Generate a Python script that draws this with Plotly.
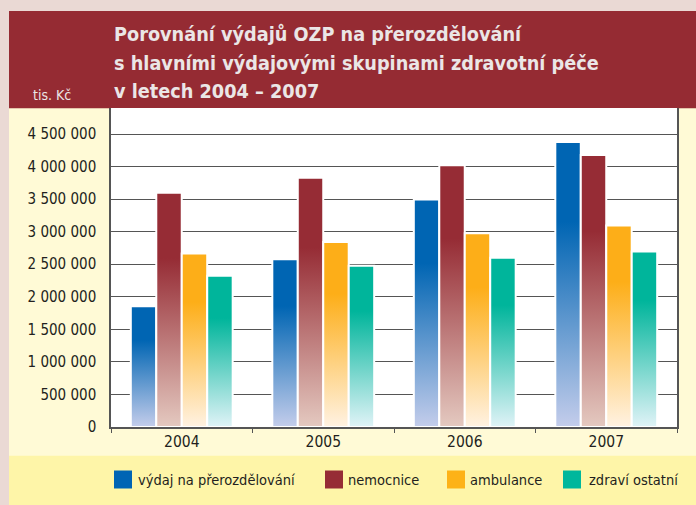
import plotly.graph_objects as go

# ---------------- data ----------------
years = ["2004", "2005", "2006", "2007"]
series_names = ["výdaj na přerozdělování", "nemocnice", "ambulance", "zdraví ostatní"]
vydaj_prerozdelovani = [1855000, 2578000, 3496000, 4377000]
nemocnice = [3598000, 3828000, 4019000, 4177000]
ambulance = [2666000, 2840000, 2978000, 3096000]
zdravi_ostatni = [2322000, 2475000, 2598000, 2697000]
y_tick_values = [0, 500000, 1000000, 1500000, 2000000, 2500000, 3000000, 3500000, 4000000, 4500000]
title_lines = ["Porovnání výdajů OZP na přerozdělování",
               "s hlavními výdajovými skupinami zdravotní péče",
               "v letech 2004 – 2007"]
unit_label = "tis. Kč"

# ---------------- style ----------------
FONT = "DejaVu Sans Condensed, DejaVu Sans, sans-serif"
solid_colors = ["#0065b3", "#962c35", "#fdae18", "#00b59b"]
light_colors = ["#c4cdeb", "#e4c9c0", "#fff2e2", "#e0f3f7"]
legend_colors = ["#0064b4", "#962c35", "#fdb217", "#00b79c"]

W, H = 696, 505
PL, PR, PT, PB = 111, 677, 108, 427  # plot area in pixels


def px(xp):
    return (xp - PL) / (PR - PL)


def py(yp):
    return (PB - yp) / (PB - PT)


all_series = [vydaj_prerozdelovani, nemocnice, ambulance, zdravi_ostatni]
fig = go.Figure()
pitch = 0.18
for j, (name, vals) in enumerate(zip(series_names, all_series)):
    for i, v in enumerate(vals):
        c = i + (j - 1.5) * pitch
        x0, x1 = c - pitch / 2, c + pitch / 2
        fig.add_trace(go.Scatter(
            x=[x0, x0, x1, x1, x0], y=[0, v, v, 0, 0],
            mode="lines", fill="toself",
            line=dict(color="white", width=2),
            fillgradient=dict(type="vertical",
                              colorscale=[[0, light_colors[j]], [0.72, solid_colors[j]], [1, solid_colors[j]]],
                              start=0, stop=v),
            name=name, legendgroup=name, showlegend=False,
            hoveron="fills", text=f"{name} {years[i]}: {v}",
        ))

shapes = [
    # pale yellow frame
    dict(type="rect", xref="paper", yref="paper", x0=px(9), x1=px(W), y0=py(H), y1=py(11),
         fillcolor="#fffad6", line=dict(width=0), layer="below"),
    # legend band
    dict(type="rect", xref="paper", yref="paper", x0=px(9), x1=px(W), y0=py(H), y1=py(455.7),
         fillcolor="#fef5a8", line=dict(width=0), layer="below"),
    # title band
    dict(type="rect", xref="paper", yref="paper", x0=px(9), x1=px(W), y0=py(108.3), y1=py(11),
         fillcolor="#952b33", line=dict(width=0), layer="below"),
    # white plot area
    dict(type="rect", xref="paper", yref="paper", x0=0, x1=1, y0=0, y1=1,
         fillcolor="white", line=dict(width=0), layer="below"),
]

annotations = []
title_baselines = [42, 71, 99]
for line, base in zip(title_lines, title_baselines):
    annotations.append(dict(text="<b>" + line + "</b>", xref="paper", yref="paper",
                            x=px(112), y=py(base + 6.3), xanchor="left", yanchor="bottom",
                            align="left", showarrow=False,
                            font=dict(family=FONT, size=19.7, color="#ebe6e6")))
annotations.append(dict(text=unit_label, xref="paper", yref="paper", x=px(30.5), y=py(104.5),
                        xanchor="left", yanchor="bottom", showarrow=False,
                        font=dict(family=FONT, size=14, color="#ebe6e6")))

legend_sq_x = [114, 325, 447, 563]
legend_txt_x = [135.7, 346, 468, 586.7]
for j, name in enumerate(series_names):
    shapes.append(dict(type="rect", xref="paper", yref="paper",
                       x0=px(legend_sq_x[j]), x1=px(legend_sq_x[j] + 18), y0=py(488.5), y1=py(470.5),
                       fillcolor=legend_colors[j], line=dict(width=0)))
    annotations.append(dict(text=name, xref="paper", yref="paper", x=px(legend_txt_x[j]), y=py(480),
                            xanchor="left", yanchor="middle", showarrow=False,
                            font=dict(family=FONT, size=14.5, color="#231f20")))

fig.update_layout(
    width=W, height=H,
    margin=dict(l=PL, r=W - PR, t=PT, b=H - PB, pad=0),
    paper_bgcolor="#ead9d4", plot_bgcolor="white",
    separators=", ", showlegend=False,
    font=dict(family=FONT, color="#231f20"),
    shapes=shapes, annotations=annotations,
    xaxis=dict(range=[-0.5, 3.5], tickmode="array", tickvals=[0, 1, 2, 3], ticktext=years,
               showgrid=False, zeroline=False, showline=True, linecolor="#555", linewidth=1.5,
               ticks="", tickfont=dict(size=15.5, color="#231f20"),
               minor=dict(tickmode="array", tickvals=[-0.5, 0.5, 1.5, 2.5, 3.5], ticks="outside",
                          ticklen=4, tickwidth=1, tickcolor="#555", showgrid=False),
               fixedrange=True),
    yaxis=dict(range=[0, 4.9e6], tickmode="array", tickvals=y_tick_values, tickformat=",d",
               showgrid=True, gridcolor="#555", gridwidth=1.3, zeroline=False,
               showline=True, mirror=True, linecolor="#555", linewidth=1.5,
               ticks="", ticklabelstandoff=10, tickfont=dict(size=15, color="#231f20"),
               fixedrange=True),
)

fig.write_html("out.html", config={"displayModeBar": False},
               post_script="document.body.style.margin='0';document.body.style.overflow='hidden';")
